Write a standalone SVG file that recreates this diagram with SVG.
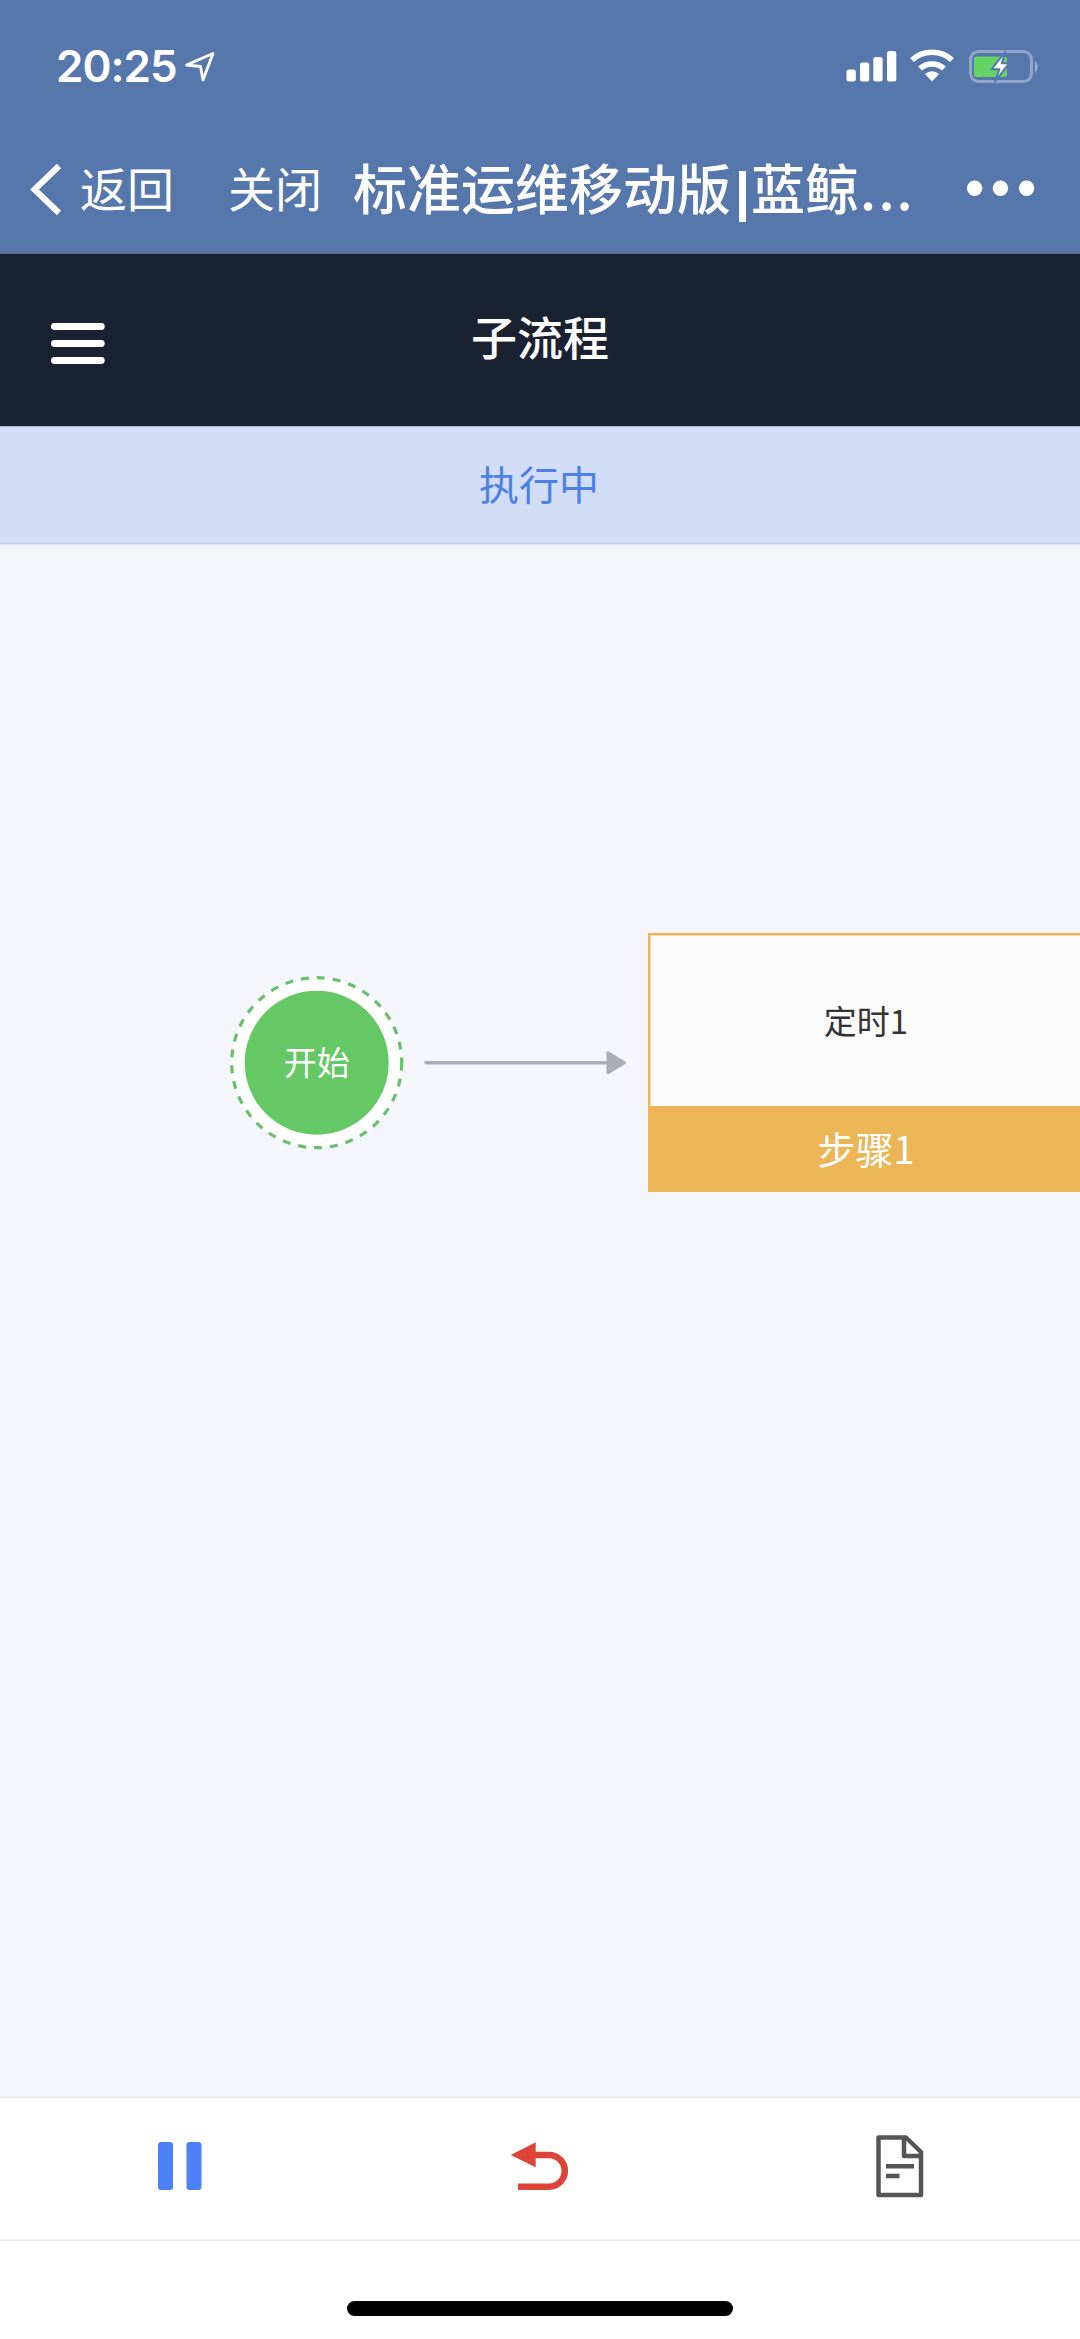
<svg xmlns="http://www.w3.org/2000/svg" width="1080" height="2339" viewBox="0 0 1080 2339">
<style>
.cjk{font-family:"Noto Sans CJK SC","Noto Sans",sans-serif}
.w{fill:#fff}
.m{text-anchor:middle}
</style>
<defs>
<marker id="arrow" markerUnits="userSpaceOnUse" markerWidth="24" markerHeight="28" refX="2" refY="14" orient="auto">
<path d="M4 4 L20.500 14 L4 24 Z" fill="#a9adb6" stroke="#a9adb6" stroke-width="3" stroke-linejoin="round"/>
</marker>
</defs>
<rect width="1080" height="2339" fill="#f5f6fb"/>
<g id="wechat-header">
<rect width="1080" height="253.500" fill="#5677ab"/>
<text x="56" y="82" font-family="Inter,Roboto,sans-serif" font-weight="600" font-size="44" letter-spacing="-1" class="w">20:25</text>
<path d="M213 53.500 L186.500 65 L200.500 66.500 L203 80 Z" fill="none" stroke="#fff" stroke-width="2.800" stroke-linejoin="round"/>
<g class="w">
<rect x="846.500" y="69.600" width="9.300" height="12" rx="2.500"/>
<rect x="860" y="62.500" width="9.300" height="19" rx="2.500"/>
<rect x="873.300" y="57" width="9.300" height="24.500" rx="2.500"/>
<rect x="887" y="51" width="9.300" height="30.500" rx="2.500"/>
</g>
<g fill="none" stroke="#fff" stroke-width="5.500">
<path d="M912 60 A30 30 0 0 1 952 60"/>
<path d="M920 68.500 A18 18 0 0 1 944 68.500"/>
</g>
<path d="M925 74 A10 10 0 0 1 939 74 L932 81.500 Z" fill="#fff"/>
<rect x="970.500" y="51.500" width="61" height="30" rx="8" fill="none" stroke="#fff" stroke-opacity=".35" stroke-width="3"/>
<rect x="974" y="56.500" width="33" height="20.500" rx="2.500" fill="#64d264"/>
<path d="M1035 60.500 Q1040 66.800 1035 73 Z" fill="#fff" fill-opacity=".45"/>
<path d="M1005.500 51.500 L991.500 69.300 L999.300 69.300 L995 81.700 L1009 63.300 L1001.700 63.300 Z" fill="#fff" stroke="#5677ab" stroke-width="2" stroke-linejoin="round"/>
<path d="M59 166 L34.500 189.500 L59 213" fill="none" stroke="#fff" stroke-width="6"/>
<text x="80" y="207" font-size="47" class="cjk w">返回</text>
<text x="228" y="207" font-size="47" class="cjk w">关闭</text>
<text x="353" y="209.500" font-size="54" font-weight="500" class="cjk w">标准运维移动版<tspan x="735" font-family="'Liberation Sans',sans-serif" font-weight="700">|</tspan><tspan x="751">蓝鲸</tspan><tspan x="860 878.500 896.500">...</tspan></text>
<g class="w">
<circle cx="974.600" cy="188.200" r="7.700"/>
<circle cx="1000.400" cy="188.200" r="7.700"/>
<circle cx="1026.600" cy="188.200" r="7.700"/>
</g>
</g>
<g id="title-bar">
<rect y="253.500" width="1080" height="173" fill="#1a2131"/>
<g class="w">
<rect x="51" y="323" width="53.700" height="7" rx="3.400"/>
<rect x="51" y="340" width="53.700" height="7" rx="3.400"/>
<rect x="51" y="357" width="53.700" height="7" rx="3.400"/>
</g>
<text x="540" y="355" font-size="46" font-weight="500" class="cjk w m">子流程</text>
</g>
<g id="status-bar">
<rect y="426.500" width="1080" height="117" fill="#d2ddf8"/>
<rect y="543" width="1080" height="1.500" fill="#c5cff2"/>
<text x="539" y="500" font-size="40" fill="#4d7fe8" class="cjk m">执行中</text>
</g>
<g id="connectors">
<line x1="426" y1="1062.700" x2="606" y2="1062.700" stroke="#a9adb6" stroke-width="3.500" stroke-linecap="round" marker-end="url(#arrow)"/>
</g>
<g id="node-start">
<circle cx="316.700" cy="1062.700" r="85" fill="#fff" stroke="#68bf6c" stroke-width="3.200" stroke-dasharray="8 8"/>
<circle cx="316.700" cy="1062.700" r="72" fill="#64c864"/>
<text x="316.700" y="1075" font-size="33" class="cjk w m">开始</text>
</g>
<g id="node-step1">
<rect x="649.250" y="934.250" width="440" height="175" fill="#fbfbfc" stroke="#ecb556" stroke-width="2.500"/>
<rect x="648" y="1106" width="432" height="86" fill="#ecb556"/>
<text x="866" y="1034" font-size="33" fill="#333" class="cjk m">定时1</text>
<text x="866" y="1164" font-size="38" class="cjk w m">步骤1</text>
</g>
<g id="toolbar">
<rect y="2097" width="1080" height="242" fill="#fff"/>
<rect y="2096.500" width="1080" height="1.500" fill="#e8e8ec"/>
<rect y="2239.500" width="1080" height="1.500" fill="#ebebee"/>
<g fill="#4b80f7">
<rect x="158" y="2142" width="15" height="48" rx="3"/>
<rect x="186.500" y="2142" width="15" height="48" rx="3"/>
</g>
<path d="M530 2155 H549 A15.800 15.800 0 0 1 549 2186.700 H518" fill="none" stroke="#dc4438" stroke-width="6.500"/>
<path d="M510.700 2155 L535.700 2142.300 V2167.300 Z" fill="#dc4438"/>
<g fill="none" stroke="#555" stroke-width="4.500" stroke-linejoin="round">
<path d="M878.500 2137.500 H906 L921 2152 V2195 H878.500 Z"/>
<path d="M904 2137.500 V2156 H921"/>
<path d="M886 2166.300 H914 M886 2176 H899.500"/>
</g>
<rect x="347" y="2301" width="386" height="15" rx="7.500" fill="#000"/>
</g>
</svg>
